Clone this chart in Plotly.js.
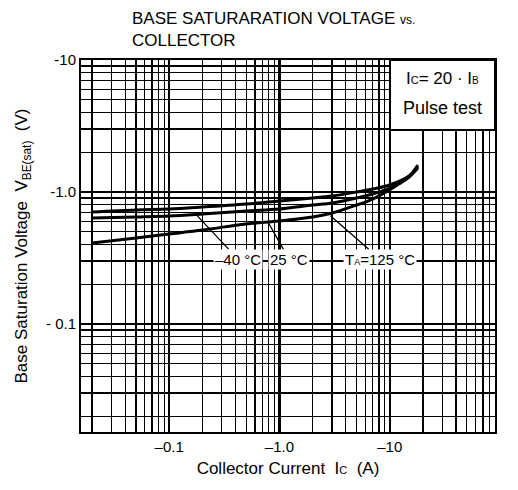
<!DOCTYPE html>
<html>
<head>
<meta charset="utf-8">
<script src="https://cdn.plot.ly/plotly-3.0.1.min.js"></script>
<style>html,body{margin:0;padding:0;background:#fff;}#chart{width:518px;height:490px;}</style>
</head>
<body>
<div id="chart"></div>
<script>
// Collector current magnitude (A)
const currents = [0.02, 0.05, 0.1, 0.2, 0.5, 1, 2, 3, 5, 7, 10, 15, 18];
// Base saturation voltage magnitude (V)
const vM40 = [0.706, 0.732, 0.743, 0.769, 0.811, 0.855, 0.901, 0.933, 1.0, 1.054, 1.13, 1.32, 1.52];
const v25  = [0.635, 0.647, 0.658, 0.681, 0.718, 0.743, 0.797, 0.826, 0.901, 0.966, 1.07, 1.30, 1.55];
const v125 = [0.411, 0.449, 0.481, 0.515, 0.573, 0.603, 0.647, 0.693, 0.797, 0.885, 1.04, 1.32, 1.60];

const xTickVals = [0.1, 1, 10, 100];
const xTickText = ["\u20130.1", "\u20131.0", "\u201310", "\u2013100"];
const yTickVals = [0.1, 1, 10];
const yTickText = ["- 0.1", "-1.0", "-10"];
const minorMult = [2, 3, 4, 5, 6, 7, 8, 9];
const decades = [0.001, 0.01, 0.1, 1, 10, 100];
const minorVals = [];
decades.forEach(d => minorMult.forEach(m => minorVals.push(+(d * m).toPrecision(3))));

const lineStyle = {color: '#000', width: 3, shape: 'spline'};
const traces = [
  {x: currents, y: vM40, mode: 'lines', line: lineStyle, name: '-40 °C'},
  {x: currents, y: v25, mode: 'lines', line: lineStyle, name: '25 °C'},
  {x: currents, y: v125, mode: 'lines', line: lineStyle, name: 'Ta=125 °C'}
];

const L = Math.log10;
const font = {family: 'Liberation Sans, Arial, sans-serif', color: '#000'};
const labelFont = Object.assign({}, font, {size: 15});
const py = p => 1 - (p - 60) / 372;   // pixel row -> paper y
const px = p => (p - 81) / 414;       // pixel col -> paper x

const layout = {
  width: 518, height: 490,
  margin: {l: 81, r: 23, t: 60, b: 58},
  paper_bgcolor: '#fff', plot_bgcolor: '#fff',
  showlegend: false,
  xaxis: {
    type: 'log', range: [-1.8, 1.955],
    tickmode: 'array', tickvals: xTickVals, ticktext: xTickText,
    tickfont: labelFont, ticks: '',
    showgrid: true, gridcolor: '#000', gridwidth: 2.2,
    minor: {tickmode: 'array', tickvals: minorVals, showgrid: true, gridcolor: '#000', gridwidth: 1.3, ticks: ''},
    showline: true, linecolor: '#000', linewidth: 2, mirror: true,
    zeroline: false,
    title: {text: 'Collector Current  I<span style="font-size:11px">C</span>  (A)', font: Object.assign({}, font, {size: 17}), standoff: 8}
  },
  yaxis: {
    type: 'log', range: [-1.818, 1],
    tickmode: 'array', tickvals: yTickVals, ticktext: yTickText,
    tickfont: labelFont, ticks: '',
    showgrid: true, gridcolor: '#000', gridwidth: 2.2,
    minor: {tickmode: 'array', tickvals: minorVals, showgrid: true, gridcolor: '#000', gridwidth: 1.3, ticks: ''},
    showline: true, linecolor: '#000', linewidth: 2, mirror: true,
    zeroline: false,
    title: {text: 'Base Saturation Voltage  V<sub>BE(sat)</sub>  (V)', font: Object.assign({}, font, {size: 17}), standoff: 14}
  },
  shapes: [
    {type: 'rect', xref: 'paper', yref: 'paper', x0: px(390), x1: 1, y0: py(130), y1: 1,
     fillcolor: '#fff', line: {color: '#000', width: 2}, layer: 'above'}
  ],
  annotations: [
    {xref: 'paper', yref: 'paper', x: px(130), y: py(18), xanchor: 'left', yanchor: 'middle', showarrow: false,
     text: 'BASE SATURARATION VOLTAGE <span style="font-size:12px">vs.</span>', font: Object.assign({}, font, {size: 17})},
    {xref: 'paper', yref: 'paper', x: px(130), y: py(40), xanchor: 'left', yanchor: 'middle', showarrow: false,
     text: 'COLLECTOR', font: Object.assign({}, font, {size: 17})},
    {xref: 'paper', yref: 'paper', x: px(442), y: py(79), text: 'I<span style="font-size:11px">C</span>= 20 · I<span style="font-size:10px">B</span>',
     showarrow: false, font: Object.assign({}, font, {size: 17}), xanchor: 'center', yanchor: 'middle'},
    {xref: 'paper', yref: 'paper', x: px(442), y: py(108), text: 'Pulse test',
     showarrow: false, font: Object.assign({}, font, {size: 18}), xanchor: 'center', yanchor: 'middle'},
    {ax: L(0.42), ay: L(0.31), x: L(0.18), y: L(0.66), text: '\u201340 °C', font: labelFont, bgcolor: '#fff',
     showarrow: true, arrowhead: 0, arrowwidth: 1.3, arrowcolor: '#000', axref: 'x', ayref: 'y', standoff: 0},
    {ax: L(1.22), ay: L(0.31), x: L(0.78), y: L(0.60), text: '25 °C', font: labelFont, bgcolor: '#fff',
     showarrow: true, arrowhead: 0, arrowwidth: 1.3, arrowcolor: '#000', axref: 'x', ayref: 'y', standoff: 0},
    {ax: L(8.2), ay: L(0.31), x: L(2.9), y: L(0.66), text: 'T<span style="font-size:9px">A</span>=125 °C', font: labelFont, bgcolor: '#fff',
     showarrow: true, arrowhead: 0, arrowwidth: 1.3, arrowcolor: '#000', axref: 'x', ayref: 'y', standoff: 0}
  ]
};

Plotly.newPlot('chart', traces, layout, {displayModeBar: false, staticPlot: true});
</script>
</body>
</html>
